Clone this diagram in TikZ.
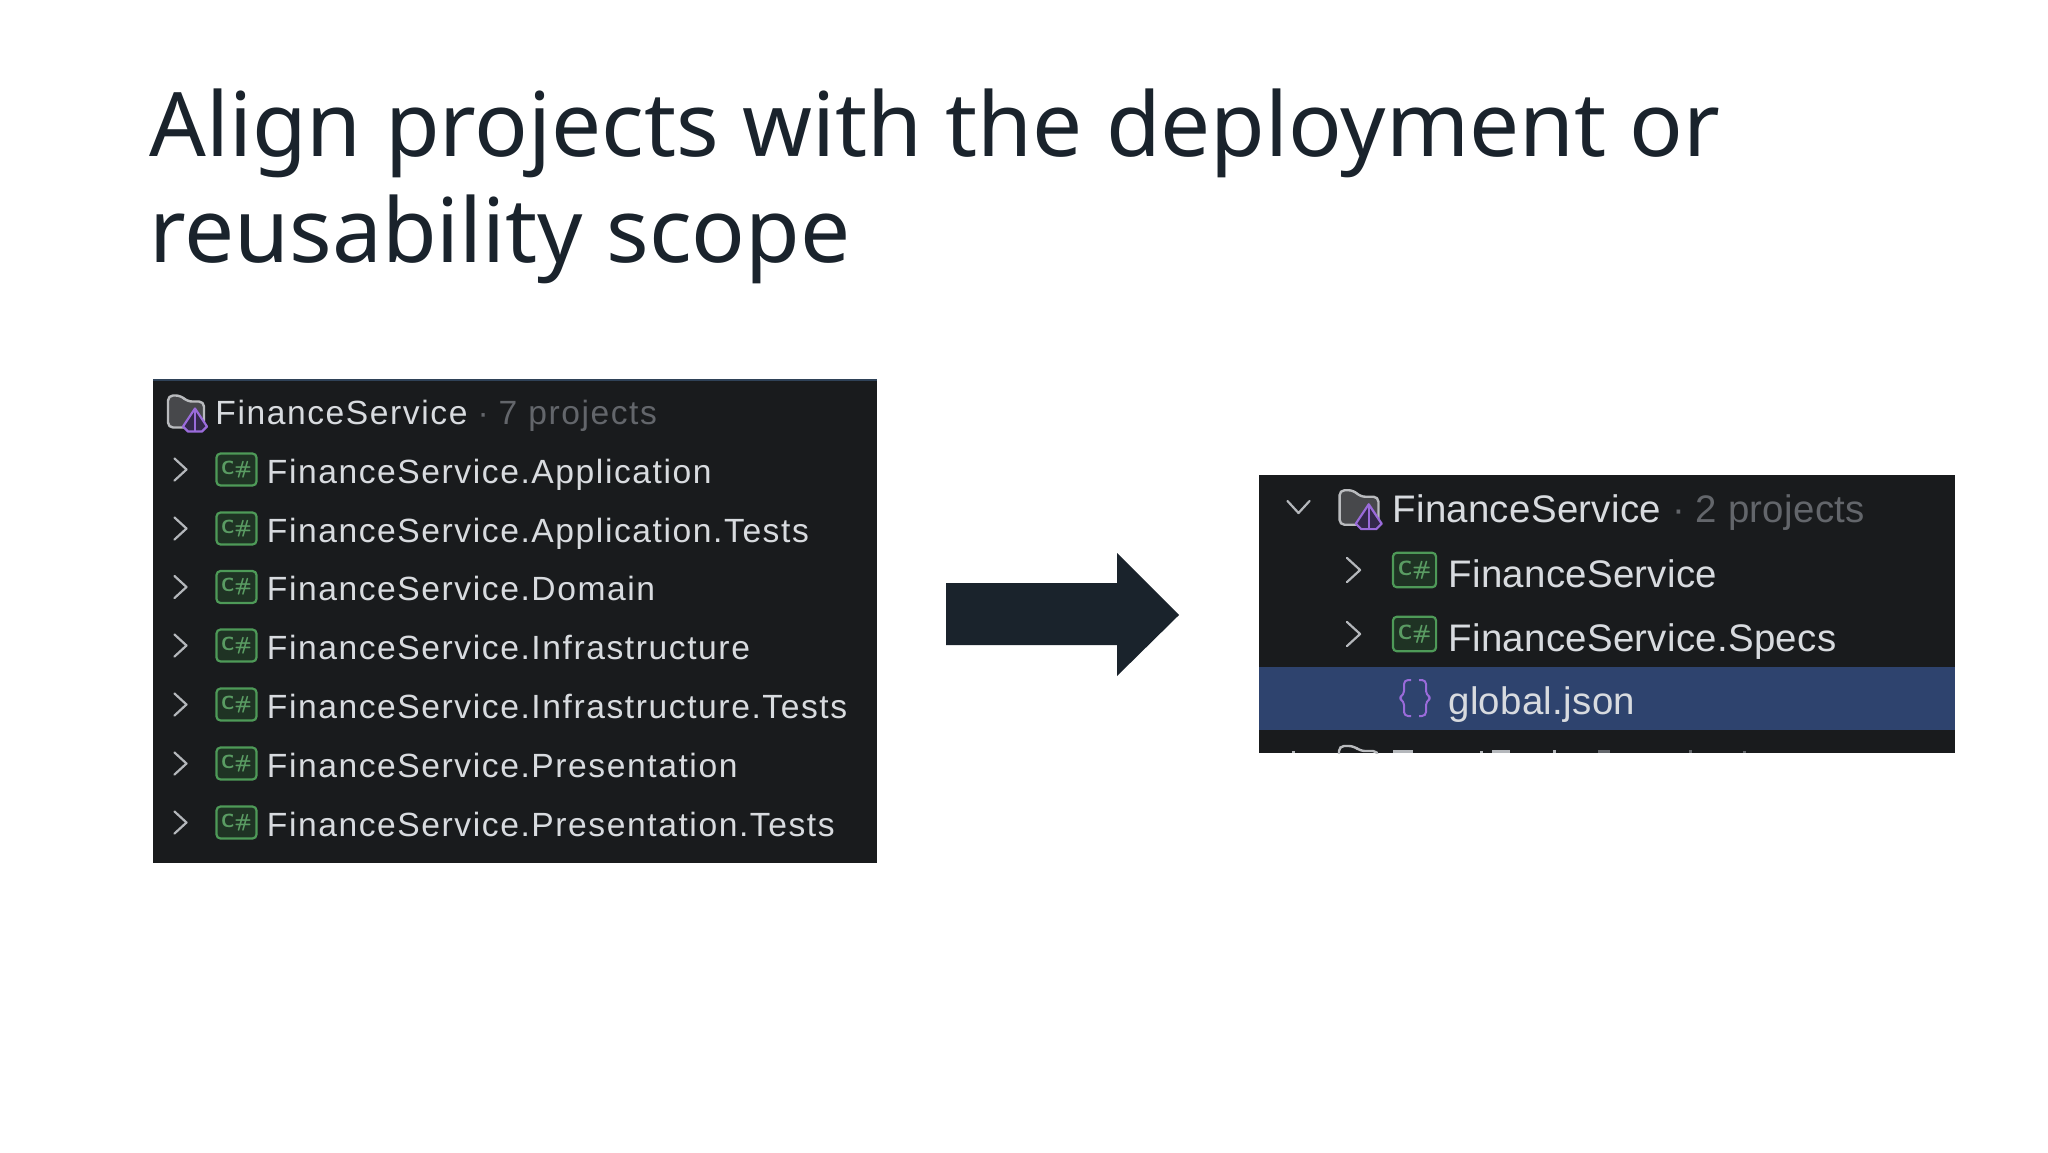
\documentclass[tikz,border=0pt]{standalone}
\usepackage{fontspec}
\setmainfont{Noto Sans}
\newfontfamily\uifont[LetterSpace=4.7]{Liberation Sans}
\newfontfamily\uifontr[LetterSpace=0.8]{Liberation Sans}
\definecolor{ink}{HTML}{1A232C}
\definecolor{panel}{HTML}{191B1D}
\definecolor{sel}{HTML}{2E436E}
\definecolor{ltext}{HTML}{D8DBDF}
\definecolor{dim}{HTML}{63666B}
\definecolor{csgreen}{HTML}{4E9A58}
\definecolor{csfill}{HTML}{1F3324}
\definecolor{cstext}{HTML}{5A9C63}
\definecolor{purp}{HTML}{9A6BDA}
\definecolor{purpfill}{HTML}{33284A}
\definecolor{chev}{HTML}{B4B7BB}
\definecolor{fold}{HTML}{B9BBBE}
\definecolor{foldin}{HTML}{47484B}
\definecolor{topline}{HTML}{2F4258}
\tikzset{
 x=0.5pt,y=-0.5pt,
 titletext/.style={anchor=base west,inner sep=0,text=ink,font=\fontsize{44.5}{50}\selectfont},
 ltxt/.style={anchor=base west,inner sep=0,text=ltext,font=\uifont\fontsize{16.8}{20}\selectfont},
 rtxt/.style={anchor=base west,inner sep=0,text=ltext,font=\uifontr\fontsize{19.2}{22}\selectfont},
 chevline/.style={draw=chev,line width=1.1pt,line cap=round,line join=round},
 fragm/.style={fill=chev},
 pics/csbox/.style={code={
   \draw[csgreen,fill=csfill,line width=1.1pt,rounded corners=2pt] (-20,-16) rectangle (20,16);
   \node[inner sep=0,transform shape,text=cstext,font=\fontsize{9.5}{11}\selectfont\sffamily\bfseries] at (0,0) {C\#};
 }},
 pics/chevr/.style={code={\draw[chevline] (-6,-11) -- (6,0) -- (-6,11);}},
 pics/chevd/.style={code={\draw[chevline] (-11,-6) -- (0,6) -- (11,-6);}},
 pics/folderic/.style={code={
   \draw[fold,line width=1.2pt,line join=round,fill=foldin,rounded corners=2.5pt] (-18,16) -- (-18,-16) -- (-5,-16) -- (1,-10) -- (18,-10) -- (18,16) -- cycle;
   \draw[purp,fill=purpfill,line width=1.1pt,line join=round] (9,-3) -- (21,15) -- (16,20) -- (2,20) -- (-3,15) -- cycle;
   \draw[purp,line width=1pt] (9,-3) -- (9,20);
 }},
}
\begin{document}
\begin{tikzpicture}
\useasboundingbox (0,0) rectangle (2048,1152);
\fill[white] (0,0) rectangle (2048,1152);
\node[titletext] (t1) at (149,156) {Align projects with the deployment or};
\node[titletext] (t2) at (149,262) {reusability scope};
% left panel
\fill[panel] (153,380) rectangle (877,863);
\draw[draw=topline,line width=1pt] (153,380) -- (877,380);
\pic at (186,411.5) {folderic};
\node[ltxt] (lh) at (215,424) {FinanceService\hspace{5pt}\textcolor{dim}{·\hspace{5pt}7 projects}};
\foreach \yy/\lab in {483/Application,542/Application.Tests,600.5/Domain,659/Infrastructure,718/Infrastructure.Tests,777/Presentation,836/Presentation.Tests}{
 \pic at (180.5,\yy-13.5) {chevr};
 \pic at (236.5,\yy-13.5) {csbox};
 \node[ltxt] at (266.5,\yy) {FinanceService.\lab};
}
% right panel
\fill[panel] (1259,475) rectangle (1955,753);
\fill[sel] (1259,667) rectangle (1955,730);
\pic at (1298.5,507) {chevd};
\pic[scale=1.08] at (1359,507.5) {folderic};
\node[rtxt] (rh) at (1392,522) {FinanceService\hspace{5.5pt}\textcolor{dim}{·\hspace{5.5pt}2 projects}};
\foreach \yy/\lab in {587/FinanceService,651/FinanceService.Specs}{
 \pic[scale=1.1] at (1353.5,\yy-17) {chevr};
 \pic[scale=1.08] at (1414.5,\yy-17) {csbox};
 \node[rtxt] at (1448,\yy) {\lab};
}
\draw[purp,line width=1pt,line join=round,rounded corners=2pt] (1411,680) -- (1404,680) -- (1404,695) -- (1398,698) -- (1404,701) -- (1404,716) -- (1411,716);
\draw[purp,line width=1pt,line join=round,rounded corners=2pt] (1419,680) -- (1426,680) -- (1426,695) -- (1432,698) -- (1426,701) -- (1426,716) -- (1419,716);
\node[rtxt] (gj) at (1448,714) {global.json};
% clipped row at the bottom edge of the right panel
\begin{scope}
\clip (1259,730) rectangle (1955,753);
\draw[fold,line width=1.2pt,rounded corners=2.5pt] (1339,770) -- (1339,746) -- (1354,746) -- (1360,751) -- (1378,751) -- (1378,770);
\fill[fragm] (1393,750) rectangle (1413,753);
\fill[fragm] (1492,750) rectangle (1510,753);
\fill[fragm] (1480,751) rectangle (1483,753);
\fill[fragm] (1553,750) rectangle (1556,753);
\fill[dim] (1598,750) rectangle (1610,753);
\fill[dim] (1689,750) rectangle (1692,753);
\fill[dim] (1743,751) rectangle (1746,753);
\fill[fragm] (1292,751) rectangle (1295,753);
\end{scope}
% arrow
\fill[ink] (946,583) -- (1117,583) -- (1117,553) -- (1179,615) -- (1117,676) -- (1117,645) -- (946,645) -- cycle;
\end{tikzpicture}
\end{document}
